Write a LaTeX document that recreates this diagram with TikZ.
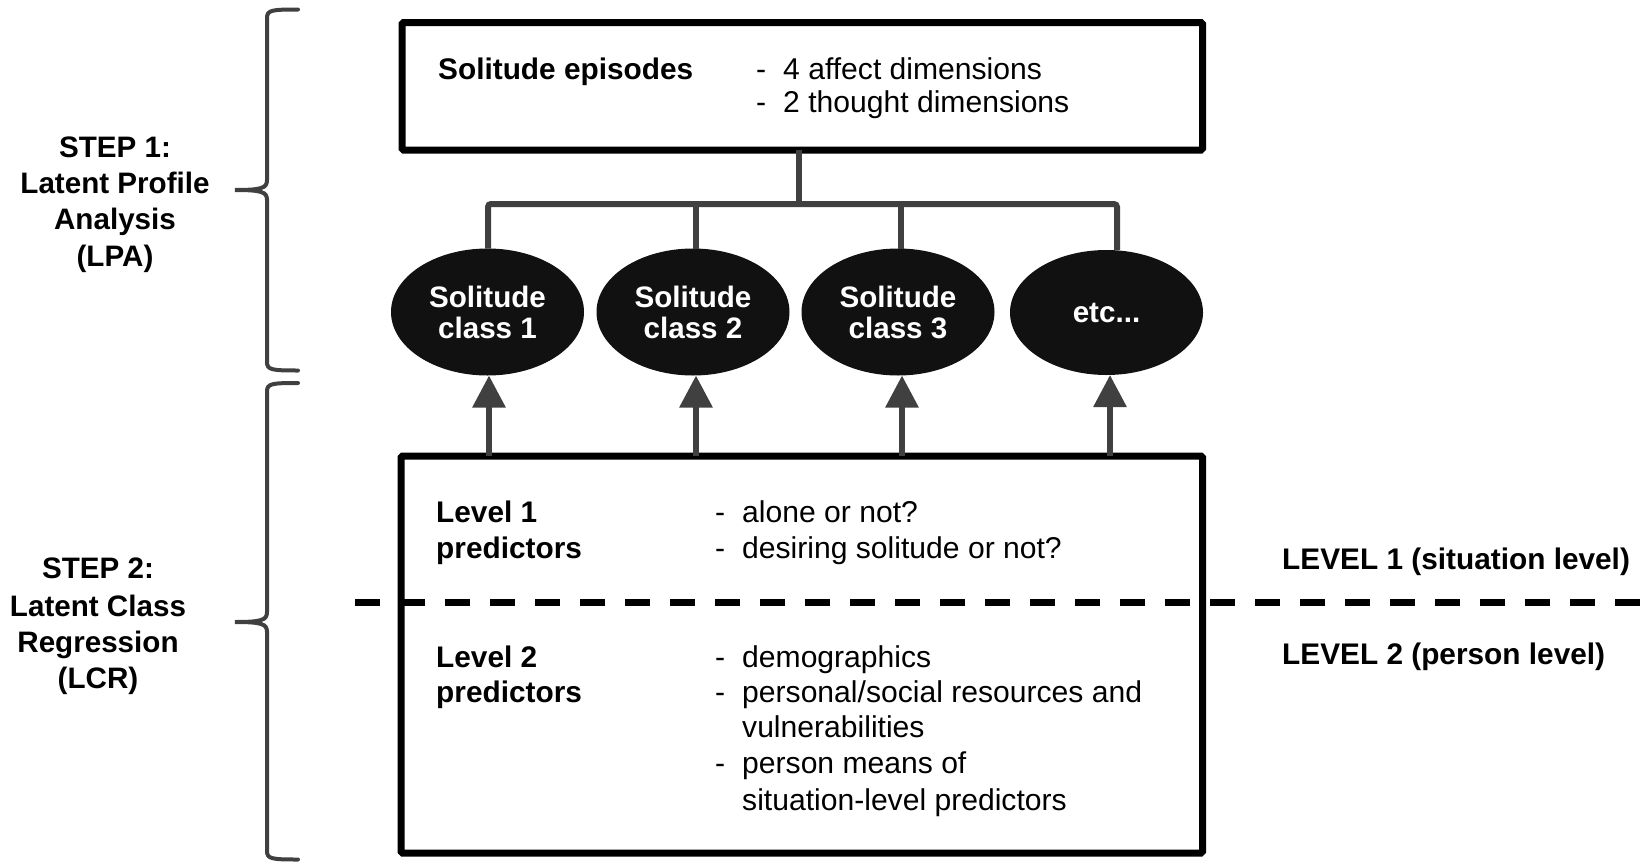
\documentclass[tikz,border=0pt]{standalone}
\usepackage{fontspec}
\setmainfont{Liberation Sans}
\usetikzlibrary{arrows.meta,shapes.geometric}
\definecolor{linegray}{HTML}{404040}
\definecolor{ellfill}{HTML}{111111}
\begin{document}
\begin{tikzpicture}[x=1pt,y=-1pt,
  box/.style={draw=black, line width=7pt, rounded corners=1.5pt, inner sep=0pt, outer sep=0pt},
  conn/.style={draw=linegray, line width=6pt},
  arr/.style={draw=linegray, line width=6pt, -{Triangle[length=32pt,width=32pt]}},
  brace/.style={draw=linegray, line width=4pt, line cap=round},
  cls/.style={ellipse, fill=ellfill, inner sep=0pt, outer sep=0pt, minimum width=193pt, minimum height=127pt, text=white, font=\fontsize{29.6}{31}\selectfont\bfseries, align=center},
  txt/.style={inner sep=0pt, anchor=base west, font=\fontsize{30.1}{36}\selectfont},
  btxt/.style={inner sep=0pt, anchor=base west, font=\fontsize{29.8}{36}\selectfont\bfseries},
  lbl/.style={inner sep=0pt, anchor=base, font=\fontsize{29.6}{36}\selectfont\bfseries},
  dashline/.style={draw=black, line width=7pt, dash pattern=on 25pt off 20pt}
]
\useasboundingbox (0,0) rectangle (1644,862);

% braces
\draw[brace] (298,9.5) .. controls (272,9.5) and (267,10) .. (267,18) -- (267,180)
  .. controls (267,188) and (262,190) .. (235,190)
  .. controls (262,190) and (267,192) .. (267,200) -- (267,362)
  .. controls (267,370) and (272,370.5) .. (298,370.5);
\draw[brace] (298,383) .. controls (272,383) and (267,383.5) .. (267,391.5) -- (267,612)
  .. controls (267,620) and (262,622) .. (235,622)
  .. controls (262,622) and (267,624) .. (267,632) -- (267,851)
  .. controls (267,859) and (272,859.5) .. (298,859.5);

% left labels
\node[lbl] (s1a) at (115,157) {STEP 1:};
\node[lbl] (s1b) at (115,193) {Latent Profile};
\node[lbl] (s1c) at (115,229) {Analysis};
\node[lbl] (s1d) at (115,266) {(LPA)};
\node[lbl] (s2a) at (98,578) {STEP 2:};
\node[lbl] (s2b) at (98,616) {Latent Class};
\node[lbl] (s2c) at (98,652) {Regression};
\node[lbl] (s2d) at (98,688) {(LCR)};

% boxes
\node[box, minimum width=800.5pt, minimum height=127.5pt] (epbox) at (802.25,86.25) {};
\node[box, minimum width=801.5pt, minimum height=397pt] (predbox) at (801.75,654.5) {};

% ellipses
\node[cls] (c1) at (487.5,312) {Solitude\\class 1};
\node[cls] (c2) at (693,312) {Solitude\\class 2};
\node[cls] (c3) at (898,312) {Solitude\\class 3};
\node[cls, minimum height=125pt] (c4) at (1106.5,312.5) {etc...};

% tree connectors
\coordinate (bus) at (799,204);
\draw[conn] (epbox.south -| bus) -- (bus);
\draw[conn, rounded corners=3pt] ([xshift=0.5pt]c1.north) -- ([xshift=0.5pt]c1.north |- bus)
  -- ([xshift=10.5pt]c4.north |- bus) -- ([xshift=10.5pt]c4.north);
\draw[conn] ([xshift=3pt]c2.north) -- ([xshift=3pt]c2.north |- bus);
\draw[conn] ([xshift=3pt]c3.north) -- ([xshift=3pt]c3.north |- bus);

% arrows
\draw[arr] ([xshift=1.5pt]c1.south |- predbox.north) -- ([xshift=1.5pt]c1.south);
\draw[arr] ([xshift=3pt]c2.south |- predbox.north) -- ([xshift=3pt]c2.south);
\draw[arr] ([xshift=4pt]c3.south |- predbox.north) -- ([xshift=4pt]c3.south);
\draw[arr] ([xshift=3.5pt]c4.south |- predbox.north) -- ([xshift=3.5pt]c4.south);

% top box text
\node[btxt] (ep) at (438,79) {Solitude episodes};
\node[txt] (ed1) at (756,79) {-};
\node[txt] (et1) at (783,79) {4 affect dimensions};
\node[txt] (ed2) at (756,112) {-};
\node[txt] (et2) at (783,112) {2 thought dimensions};

% lower box text
\node[btxt] (l1a) at (436,522) {Level 1};
\node[btxt] (l1b) at (436,558) {predictors};
\node[txt] (pd1) at (715,522) {-};
\node[txt] (pt1) at (742,522) {alone or not?};
\node[txt] (pd2) at (715,558) {-};
\node[txt] (pt2) at (742,558) {desiring solitude or not?};
\node[btxt] (l2a) at (436,667) {Level 2};
\node[btxt] (l2b) at (436,702) {predictors};
\node[txt] (pd3) at (715,667) {-};
\node[txt] (pt3) at (742,667) {demographics};
\node[txt] (pd4) at (715,702) {-};
\node[txt] (pt4) at (742,702) {personal/social resources and};
\node[txt] (pt5) at (742,737) {vulnerabilities};
\node[txt] (pd6) at (715,773) {-};
\node[txt] (pt6) at (742,773) {person means of};
\node[txt] (pt7) at (742,810) {situation-level predictors};

% level divider
\coordinate (dl) at (355,602);
\coordinate (dr) at (1644,602);
\draw[dashline] (dl) -- (dr);

% right labels
\node[btxt] (lv1) at (1282,569.5) {LEVEL 1 (situation level)};
\node[btxt] (lv2) at (1282,664) {LEVEL 2 (person level)};
\end{tikzpicture}
\end{document}
